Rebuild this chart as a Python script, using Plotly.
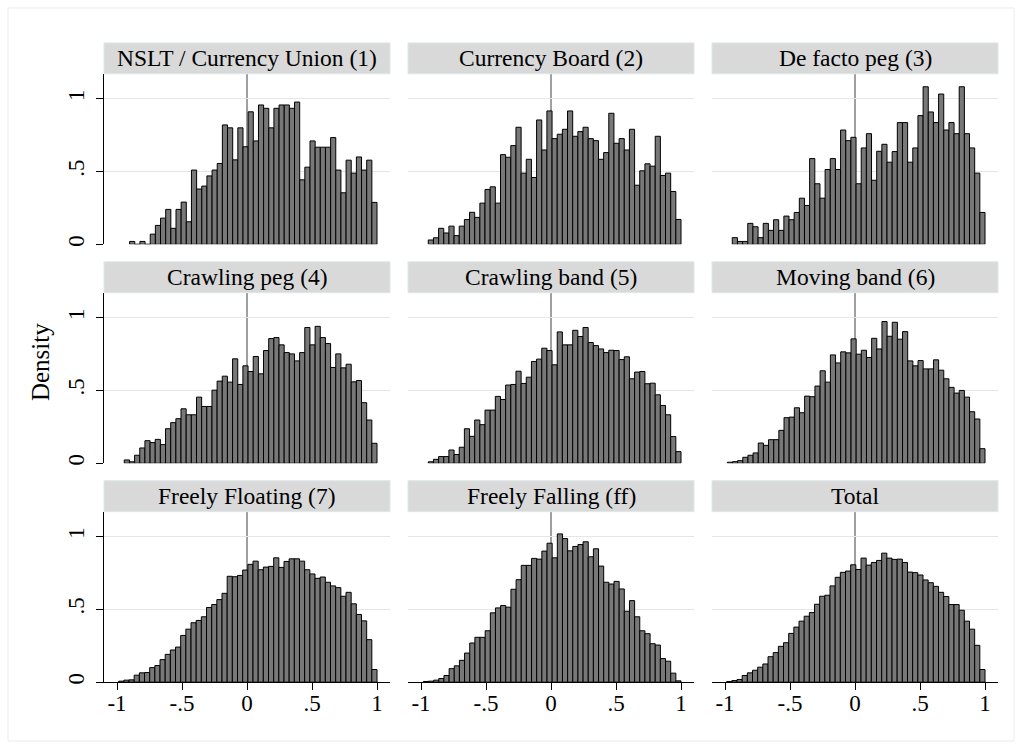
import plotly.graph_objects as go

# Histogram densities by exchange-rate regime (bins run from bin_lo to 1)
panel_titles = [
    "NSLT / Currency Union (1)", "Currency Board (2)", "De facto peg (3)",
    "Crawling peg (4)", "Crawling band (5)", "Moving band (6)",
    "Freely Floating (7)", "Freely Falling (ff)", "Total",
]
bin_lo = [-0.903, -0.944, -0.944, -0.944, -0.944, -0.982, -0.987, -0.982, -0.987]
bin_hi = 1.0

dens_nslt = [0.02, 0, 0.02, 0, 0.07, 0.13, 0.18, 0.24, 0.11, 0.24, 0.29, 0.155, 0.51, 0.38,
             0.40, 0.47, 0.51, 0.555, 0.82, 0.80, 0.58, 0.80, 0.67, 0.91, 0.71, 0.957, 0.934,
             0.80, 0.934, 0.957, 0.957, 0.934, 0.977, 0.443, 0.53, 0.71, 0.667, 0.667, 0.667,
             0.733, 0.51, 0.354, 0.578, 0.489, 0.60, 0.51, 0.578, 0.288]
dens_board = [0.03, 0.045, 0.11, 0.078, 0.125, 0.06, 0.125, 0.17, 0.22, 0.185, 0.283, 0.377,
              0.395, 0.283, 0.616, 0.598, 0.678, 0.804, 0.489, 0.584, 0.459, 0.854, 0.648,
              0.916, 0.726, 0.756, 0.79, 0.916, 0.742, 0.774, 0.804, 0.726, 0.712, 0.584, 0.63,
              0.90, 0.694, 0.726, 0.648, 0.79, 0.406, 0.505, 0.553, 0.537, 0.742, 0.473, 0.489,
              0.363, 0.171]
dens_peg = [0.046, 0.02, 0.02, 0.144, 0.121, 0.046, 0.144, 0.096, 0.169, 0.096, 0.194, 0.169,
            0.219, 0.317, 0.267, 0.589, 0.416, 0.317, 0.514, 0.589, 0.514, 0.785, 0.712, 0.735,
            0.416, 0.662, 0.76, 0.44, 0.639, 0.687, 0.564, 0.637, 0.836, 0.836, 0.564, 0.662,
            0.884, 1.082, 0.909, 0.836, 1.032, 0.785, 0.836, 0.76, 1.082, 0.76, 0.662, 0.489,
            0.219]
dens_crawl_peg = [0.023, 0.01, 0.055, 0.105, 0.155, 0.142, 0.164, 0.128, 0.237, 0.279, 0.306,
                  0.374, 0.333, 0.333, 0.454, 0.39, 0.39, 0.502, 0.564, 0.598, 0.557, 0.717,
                  0.541, 0.669, 0.63, 0.733, 0.614, 0.774, 0.856, 0.863, 0.813, 0.76, 0.751,
                  0.703, 0.76, 0.932, 0.813, 0.94, 0.863, 0.822, 0.658, 0.751, 0.655, 0.68,
                  0.559, 0.568, 0.416, 0.297, 0.137]
dens_crawl_band = [0.01, 0.027, 0.046, 0.046, 0.091, 0.06, 0.11, 0.237, 0.185, 0.297, 0.265,
                   0.365, 0.365, 0.459, 0.438, 0.537, 0.541, 0.632, 0.548, 0.591, 0.699, 0.715,
                   0.79, 0.774, 0.676, 0.902, 0.813, 0.813, 0.913, 0.87, 0.932, 0.829, 0.808,
                   0.785, 0.76, 0.776, 0.774, 0.712, 0.731, 0.58, 0.626, 0.63, 0.546, 0.55,
                   0.47, 0.397, 0.333, 0.183, 0.08]
dens_moving = [0.007, 0.011, 0.018, 0.041, 0.055, 0.071, 0.139, 0.123, 0.162, 0.162, 0.226,
               0.313, 0.317, 0.381, 0.347, 0.461, 0.457, 0.53, 0.635, 0.557, 0.744, 0.689,
               0.765, 0.758, 0.854, 0.749, 0.776, 0.726, 0.858, 0.785, 0.973, 0.872, 0.968,
               0.852, 0.904, 0.703, 0.669, 0.705, 0.648, 0.648, 0.71, 0.639, 0.58, 0.521,
               0.482, 0.5, 0.454, 0.354, 0.304, 0.1]
dens_floating = [0.007, 0.014, 0.016, 0.048, 0.064, 0.066, 0.1, 0.114, 0.155, 0.191, 0.221,
                 0.241, 0.321, 0.364, 0.408, 0.424, 0.449, 0.513, 0.533, 0.567, 0.61, 0.727,
                 0.724, 0.733, 0.77, 0.809, 0.831, 0.772, 0.79, 0.795, 0.854, 0.788, 0.829,
                 0.847, 0.847, 0.831, 0.772, 0.743, 0.713, 0.722, 0.686, 0.661, 0.649, 0.59,
                 0.617, 0.538, 0.465, 0.421, 0.292, 0.087]
dens_falling = [0.005, 0.007, 0.014, 0.025, 0.046, 0.093, 0.112, 0.15, 0.2, 0.269, 0.308,
                0.308, 0.353, 0.476, 0.51, 0.526, 0.515, 0.638, 0.704, 0.802, 0.802, 0.85,
                0.845, 0.9, 0.954, 0.854, 1.018, 0.986, 0.902, 0.932, 0.945, 0.964, 0.861,
                0.916, 0.797, 0.686, 0.674, 0.692, 0.64, 0.487, 0.56, 0.449, 0.353, 0.333,
                0.264, 0.255, 0.162, 0.144, 0.062, 0.009]
dens_total = [0.005, 0.011, 0.018, 0.046, 0.064, 0.082, 0.103, 0.125, 0.175, 0.203, 0.246,
              0.271, 0.335, 0.378, 0.419, 0.453, 0.478, 0.535, 0.59, 0.597, 0.661, 0.72,
              0.754, 0.763, 0.806, 0.774, 0.852, 0.804, 0.822, 0.836, 0.886, 0.852, 0.843,
              0.845, 0.822, 0.756, 0.752, 0.736, 0.702, 0.683, 0.658, 0.617, 0.588, 0.533,
              0.533, 0.494, 0.419, 0.364, 0.253, 0.087]

densities = [dens_nslt, dens_board, dens_peg, dens_crawl_peg, dens_crawl_band,
             dens_moving, dens_floating, dens_falling, dens_total]

x_tickvals = [-1, -0.5, 0, 0.5, 1]
x_ticktext = ["-1", "-.5", "0", ".5", "1"]
y_tickvals = [0, 0.5, 1]
y_ticktext = ["0", ".5", "1"]
ref_x = 0

# ---- layout geometry (pixels) ----
W, H = 1022, 751
col_left = [104, 408, 712]
col_w = 286
row_top = [74, 293.5, 513]
row_h = 171
strip_h = 31

FONT = "Liberation Serif"
BAR_FILL = "#787878"
STRIP_FILL = "#d9d9d9"
GRID = "#e6e6e6"

def px_x(v):
    return v / W

def px_y(v):
    return 1 - v / H

fig = go.Figure()
shapes = []
annotations = []

for i, (title, dens, lo) in enumerate(zip(panel_titles, densities, bin_lo)):
    r, c = divmod(i, 3)
    n = len(dens)
    w = (bin_hi - lo) / n
    centers = [lo + w * (k + 0.5) for k in range(n)]
    ax = "" if i == 0 else str(i + 1)
    fig.add_trace(go.Bar(
        x=centers, y=dens, width=[w] * n,
        marker=dict(color=BAR_FILL, line=dict(color="black", width=1)),
        xaxis="x" + ax, yaxis="y" + ax, showlegend=False, hoverinfo="x+y",
    ))

    x0, x1 = px_x(col_left[c]), px_x(col_left[c] + col_w)
    y1 = px_y(row_top[r])
    y0 = px_y(row_top[r] + row_h)
    bottom = (r == 2)
    left = (c == 0)

    fig.layout["xaxis" + ax] = dict(
        domain=[x0, x1], anchor="y" + ax, range=[-1.1, 1.1],
        tickvals=x_tickvals, ticktext=x_ticktext,
        showgrid=False, zeroline=False,
        showline=bottom, linecolor="black", linewidth=1,
        ticks="outside" if bottom else "", ticklen=7, tickcolor="black",
        showticklabels=bottom, ticklabelstandoff=-7,
        tickfont=dict(family=FONT, size=23, color="black"),
    )
    fig.layout["yaxis" + ax] = dict(
        domain=[y0, y1], anchor="x" + ax, range=[0, 1.171],
        tickvals=y_tickvals, ticktext=y_ticktext,
        showgrid=True, gridcolor=GRID, gridwidth=1, zeroline=False,
        showline=left, linecolor="black", linewidth=1,
        ticks="outside" if left else "", ticklen=7, tickcolor="black",
        showticklabels=left, tickangle=-90, ticklabelstandoff=3,
        tickfont=dict(family=FONT, size=23, color="black"),
    )

    # reference line at zero
    shapes.append(dict(type="line", xref="x" + ax, yref="y" + ax + " domain",
                       x0=ref_x, x1=ref_x, y0=0, y1=1, layer="below",
                       line=dict(color="#404040", width=1)))

    # panel strip with title
    sy0 = px_y(row_top[r])
    sy1 = px_y(row_top[r] - strip_h)
    shapes.append(dict(type="rect", xref="paper", yref="paper",
                       x0=x0, x1=x1, y0=sy0, y1=sy1,
                       fillcolor=STRIP_FILL, line=dict(color="#dde8ea", width=1),
                       layer="above"))
    annotations.append(dict(text=title, xref="paper", yref="paper",
                            x=(x0 + x1) / 2, y=(sy0 + sy1) / 2,
                            xanchor="center", yanchor="middle", showarrow=False,
                            font=dict(family=FONT, size=23.5, color="black")))

# outer frame
shapes.append(dict(type="rect", xref="paper", yref="paper",
                   x0=px_x(8), x1=px_x(1014), y0=px_y(743), y1=px_y(8),
                   line=dict(color="#ebebeb", width=1), fillcolor="rgba(0,0,0,0)",
                   layer="below"))

annotations.append(dict(text="Density", xref="paper", yref="paper",
                        x=px_x(40), y=px_y(363), textangle=-90,
                        xanchor="center", yanchor="middle", showarrow=False,
                        font=dict(family=FONT, size=25, color="black")))

fig.update_layout(
    width=W, height=H,
    margin=dict(l=0, r=0, t=0, b=0),
    paper_bgcolor="white", plot_bgcolor="white",
    shapes=shapes, annotations=annotations,
    barmode="overlay",
)

fig.write_html("out.html")
